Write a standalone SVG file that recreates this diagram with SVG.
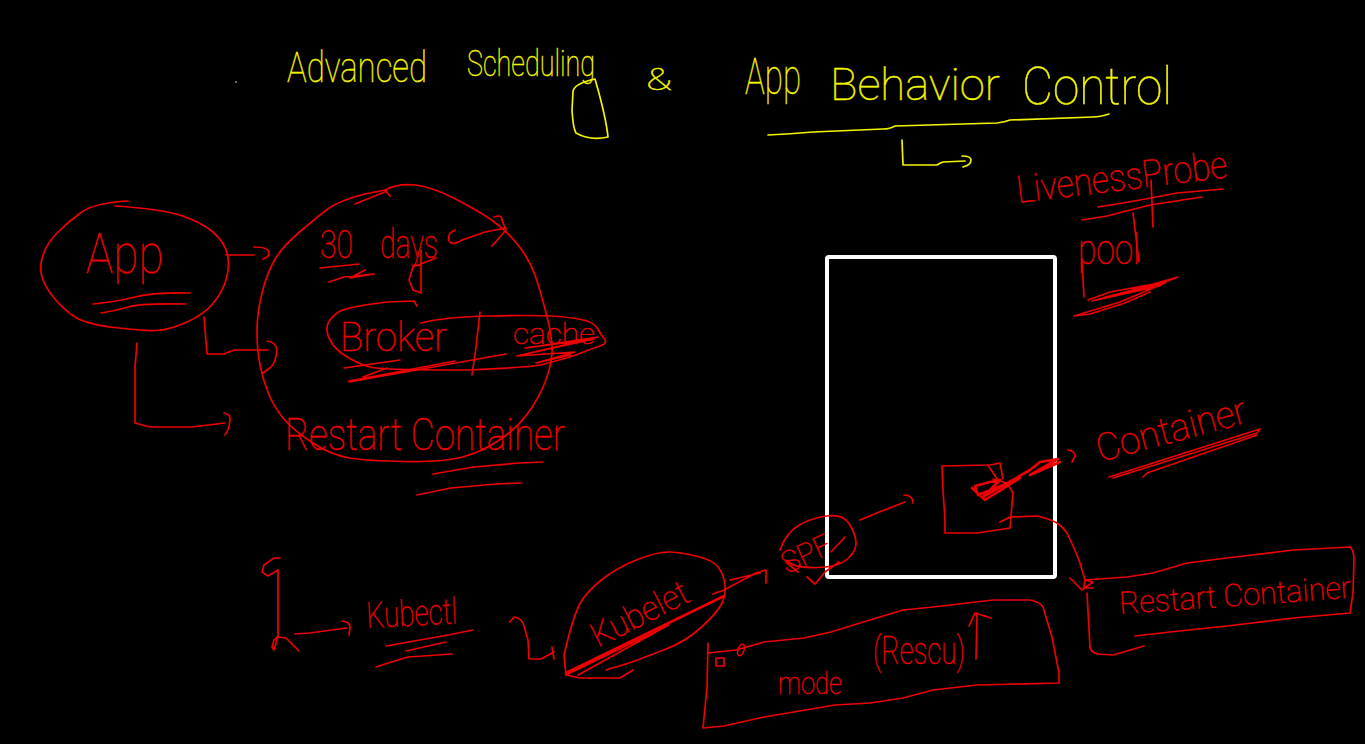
<svg xmlns="http://www.w3.org/2000/svg" width="1365" height="744" viewBox="0 0 1365 744">
<style>
.y{fill:none;stroke:#f4f400;stroke-width:1.7;stroke-linejoin:round;stroke-linecap:round}
.r{fill:none;stroke:#ee0000;stroke-width:1.7;stroke-linejoin:round;stroke-linecap:round}
.th{stroke-width:2.6}
text{font-family:"Roboto","Open Sans","Liberation Sans",sans-serif;font-weight:100;stroke-width:.45}
.ty{fill:#f4f400;stroke:#f4f400}
.tr{fill:#ee0000;stroke:#ee0000}
</style>
<rect width="1365" height="744" fill="#000"/>
<circle cx="236" cy="82" r="1" fill="#999"/>
<g id="title">
<text class="ty" x="287" y="82" font-size="42" textLength="140" lengthAdjust="spacingAndGlyphs">Advanced</text>
<text class="ty" x="467" y="76" font-size="36" textLength="128" lengthAdjust="spacingAndGlyphs">Scheduling</text>
<text class="ty" x="646" y="90" font-size="32" textLength="26" lengthAdjust="spacingAndGlyphs">&amp;</text>
<text class="ty" x="745" y="94" font-size="50" textLength="56" lengthAdjust="spacingAndGlyphs">App</text>
<text class="ty" x="830" y="100" font-size="44" textLength="170" lengthAdjust="spacingAndGlyphs">Behavior</text>
<text class="ty" x="1022" y="104" font-size="52" textLength="150" lengthAdjust="spacingAndGlyphs">Control</text>
<path class="y" d="M595 79Q573 84 573 92L572 110Q573 128 576 133Q590 141 608 137Q606 117 595 79Z"/>
<path class="y" d="M768 135Q790 134 813 132L883 129Q890 129 895 126L997 123Q1005 122 1010 120L1093 117Q1100 117 1109 114"/>
<path class="y" d="M902 140L903 165L937 165Q940 163 943 162L965 161M962 156Q971 156 971 160Q971 165 963 167"/>
</g>
<g id="pod-frame"><rect x="827" y="257" width="228" height="320" rx="2" fill="none" stroke="#fff" stroke-width="4"/></g>
<g id="liveness">
<text class="tr" x="1018" y="203" font-size="38" textLength="212" lengthAdjust="spacingAndGlyphs" transform="rotate(-7 1018 203)">LivenessProbe</text>
<path class="r" d="M1098 207L1117 204L1140 200L1177 193L1223 189M1082 220L1107 216L1150 205L1202 197M1151 180L1153 227"/>
<text class="tr" x="1078" y="264" font-size="42" textLength="62" lengthAdjust="spacingAndGlyphs">pool</text>
<path class="r" d="M1133 213L1139 262M1082 262L1084 297"/>
<path class="r" d="M1088 300L1110 292L1165 282L1178 277L1125 292L1092 301L1160 286L1105 297L1165 283L1120 302L1074 316L1090 314L1125 303L1150 292"/>
</g>
<g id="app">
<path class="r" d="M128 201Q94 203 81 212.5Q68 222 57.5 232.5Q47 243 43 255Q39 267 42 277Q45 287 54.5 298.5Q64 310 75 317Q86 324 114.5 327.5Q143 331 156 330.5Q169 330 186 322.5Q203 315 212.5 304Q222 293 226 280Q230 267 227.5 255Q225 243 214 233Q203 223 182.5 216Q162 209 115 206"/>
<text class="tr" x="86" y="273" font-size="56" textLength="78" lengthAdjust="spacingAndGlyphs">App</text>
<path class="r" d="M93 304Q115 302 135 297T190 293M101 313Q115 311 128 307T186 304"/>
</g>
<g id="connectors-app">
<path class="r" d="M226 255L254 255M254 247Q269 247 269 253Q269 257 263 259"/>
<path class="r" d="M204 317L207 354L224 354Q230 351 235 350L268 350M267 341Q276 342 277 350Q276 362 271 367L263 373"/>
<path class="r" d="M137 343L135 367L135 423L150 427L192 427L225 423M224 413Q231 414 230 420Q229 430 225 435"/>
</g>
<g id="big-circle">
<path class="r" d="M390 196L385 190L365 194Q338 201 327 209.5Q316 218 299 232.5Q282 247 274.5 260Q267 273 262 293Q257 313 257 331.5Q257 350 260 365Q263 380 268.5 393.5Q274 407 283.5 418.5Q293 430 312 442.5Q331 455 349.5 458Q368 461 406 461.5Q444 462 462.5 457Q481 452 498 441Q515 430 526.5 415Q538 400 544.5 383.5Q551 367 552 353.5Q553 340 547 316.5Q541 293 535.5 276.5Q530 260 518 245Q506 230 491.5 220Q477 210 454.5 198.5Q432 187 415 185Q398 183 385 190M355 204L387 191"/>
<path class="r" d="M494 217Q502 214 502 220Q505 228 506 230L492 246M455 230Q447 233 449 241Q452 246 462 240L485 232L506 228"/>
<text class="tr" x="320" y="258" font-size="38" textLength="33" lengthAdjust="spacingAndGlyphs">30</text>
<text class="tr" x="380" y="258" font-size="40" textLength="58" lengthAdjust="spacingAndGlyphs">days</text>
<path class="r" d="M320 268L359 264M329 282L344 277L374 274L350 278L365 270M421 250L421 293L413 290L409 280L413 267L436 258"/>
<path class="r" d="M417 306L414 301L387 302Q346 307 338.5 312Q331 317 328 323.5Q325 330 330 340Q335 350 348 357.5Q361 365 372 367.5Q383 370 470 370Q534 367 542.5 364.5Q551 362 559.5 360Q568 358 581 353Q594 348 601 345.5Q608 343 604.5 339Q601 335 597.5 328.5Q594 322 581 319.5Q568 317 551 316Q534 315 489 316Q444 317 421 323M480 312L476 347L472 375"/>
<text class="tr" x="340" y="351" font-size="40" textLength="107" lengthAdjust="spacingAndGlyphs">Broker</text>
<text class="tr" x="513" y="344" font-size="30" textLength="82" lengthAdjust="spacingAndGlyphs">cache</text>
<path class="r" d="M349 381L455 361M349 382L506 354M344 368L400 360M363 377L387 368M517 356L598 337L525 348L594 339L517 356L575 352L536 363L571 355"/>
<text class="tr" x="285" y="450" font-size="44" textLength="280" lengthAdjust="spacingAndGlyphs">Restart Container</text>
<path class="r" d="M433 474L474 467L519 463L543 462M417 495L451 488L496 484L521 483"/>
</g>
<g id="kubectl">
<path class="r" d="M280 558L274 558L264 565L262 572L268 576L278 570L278 636L274 640L272 647L274 650L278 637L286 638L299 651"/>
<path class="r" d="M295 634L309 633L347 628M342 621Q351 622 350 628L349 635"/>
<text class="tr" x="367" y="628" font-size="36" textLength="91" lengthAdjust="spacingAndGlyphs" transform="rotate(-3 367 628)">Kubectl</text>
<path class="r" d="M386 646L448 635L473 630M406 651L446 642M376 667L388 663L408 657L452 654"/>
</g>
<g id="kubelet">
<path class="r" d="M510 622L514 617Q522 618 524 626L528 640L529 659L541 659L554 652M552 647L554 659"/>
<path class="r" d="M566 675L564 655Q573 617 579.5 604.5Q586 592 602 579.5Q618 567 637.5 559.5Q657 552 668 552Q679 552 696 556Q713 560 718.5 567.5Q724 575 725 585Q726 595 721.5 604Q717 613 701 627.5Q685 642 665 649.5Q645 657 637.5 660Q630 663 606 670M566 675L580 678L620 678L633 670"/>
<path class="r th" d="M566 673L724 596"/>
<path class="r" d="M566 675L669 625M578 675L665 627"/>
<text class="tr" x="598" y="648" font-size="34" textLength="105" lengthAdjust="spacingAndGlyphs" transform="rotate(-27 598 648)">Kubelet</text>
<path class="r" d="M730 580L760 573M713 594L724 590L756 573L766 570L766 583"/>
</g>
<g id="spf">
<path class="r" d="M780 550Q786 533 798.5 525.5Q811 518 827 516Q843 514 849 523.5Q855 533 856 541.5Q857 550 848 558.5Q839 567 817.5 567.5Q796 568 790 563Q784 558 787 563L798 572M807 577L815 584L825 572L839 562M845 537L831 552"/>
<text class="tr" x="787" y="574" font-size="30" textLength="52" lengthAdjust="spacingAndGlyphs" transform="rotate(-25 787 574)">SPF</text>
<path class="r" d="M860 520L877 513L905 502M904 495Q913 495 913 503"/>
</g>
<g id="container">
<path class="r" d="M942 466L943 490L945 520L945 533L977 533L1010 528L1013 493L1007 483L993 479M942 466L990 465L1000 463L1003 479M988 465L997 479"/>
<path class="r th" d="M972 488L985 500L1020 478L978 495L975 486L990 482L1000 480L983 497L1030 470L1040 462L1058 459L1030 475L1060 462"/>
<path class="r" d="M1068 450Q1075 451 1075 456L1072 462"/>
<text class="tr" x="1100" y="462" font-size="38" textLength="154" lengthAdjust="spacingAndGlyphs" transform="rotate(-15 1100 462)">Container</text>
<path class="r" d="M1109 477L1260 429L1257 433L1113 478M1143 477L1147 473L1257 435"/>
</g>
<g id="restart-box">
<path class="r" d="M1000 522L1010 517L1037 516Q1050 519 1057 523Q1063 527 1067 533Q1076 552 1080 563L1085 580M1070 578L1082 590L1093 582L1085 580L1084 588L1093 588"/>
<path class="r" d="M1085 580L1127 577L1153 573L1187 563L1227 558L1293 550L1350 547Q1354 550 1354 560L1353 593L1350 613L1293 618L1227 626L1170 632L1135 636M1087 593L1090 647Q1091 653 1098 654L1113 655L1144 646"/>
<text class="tr" x="1120" y="614" font-size="31" textLength="232" lengthAdjust="spacingAndGlyphs" transform="rotate(-4 1120 614)">Restart Container</text>
</g>
<g id="node-box">
<path class="r" d="M708 653L736 650L764 642L804 638L831 632L860 623L903 610L933 607L993 600L1030 600Q1040 602 1043 607L1052 637L1059 673L1059 683L977 685L933 690L903 698L870 703L835 705L764 717L724 726L703 728L707 687L708 643"/>
<ellipse class="r" cx="741" cy="650" rx="3" ry="6" transform="rotate(20 741 650)"/>
<rect class="r" x="716" y="658" width="8" height="8"/>
<text class="tr" x="778" y="694" font-size="32" textLength="64" lengthAdjust="spacingAndGlyphs">mode</text>
<text class="tr" x="873" y="664" font-size="38" textLength="92" lengthAdjust="spacingAndGlyphs">(Rescu)</text>
<path class="r" d="M976 659L977 613M969 626L975 613L991 618"/>
</g>
</svg>
